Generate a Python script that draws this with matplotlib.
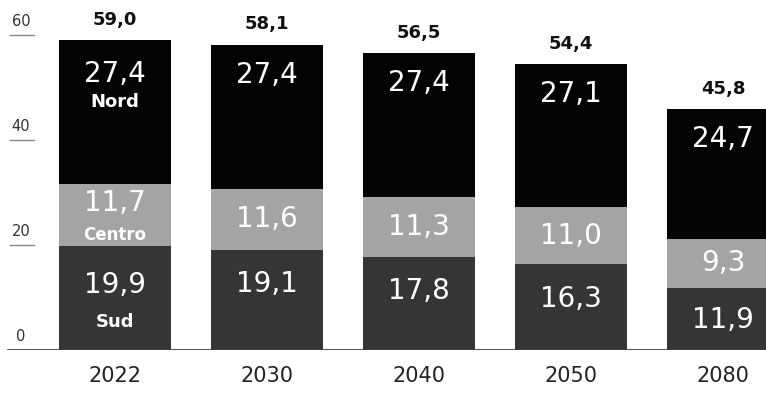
import matplotlib.pyplot as plt
import numpy as np

plt.rcParams['font.family'] = ['DejaVu Sans']

years = ['2022', '2030', '2040', '2050', '2080']
sud = [19.9, 19.1, 17.8, 16.3, 11.9]
centro = [11.7, 11.6, 11.3, 11.0, 9.3]
nord = [27.4, 27.4, 27.4, 27.1, 24.7]
totale = [59.0, 58.1, 56.5, 54.4, 45.8]
yticks = [0, 20, 40, 60]

def fmt(v):
    return f'{v:.1f}'.replace('.', ',')

fig = plt.figure(figsize=(7.66, 3.94), dpi=100)
ax = fig.add_axes([0, 44 / 394, 1, 350 / 394])
ax.set_xlim(-0.757, 4.283)
ax.set_ylim(0, 350 / 5.25)
ax.axis('off')

x = np.arange(len(years))
sud = np.array(sud)
centro = np.array(centro)
nord = np.array(nord)
w = 0.74

ax.bar(x, sud, w, color='#353535')
ax.bar(x, centro, w, bottom=sud, color='#a4a4a4')
ax.bar(x, nord, w, bottom=sud + centro, color='#040404')

# linea di base
ax.axhline(0, xmin=8 / 766, xmax=1, color='#444444', lw=2, zorder=5)

# etichette asse y
for t in yticks:
    ax.text(21 / 766, t + 1.2, str(t), transform=ax.get_yaxis_transform(),
            ha='center', va='bottom', fontsize=10.5, color='#333333')
    if t > 0:
        ax.plot([10 / 766, 34 / 766], [t, t], transform=ax.get_yaxis_transform(),
                color='#888888', lw=1, clip_on=False)

for i in range(len(years)):
    top_s = sud[i]
    top_c = sud[i] + centro[i]
    top_n = top_c + nord[i]
    if i == 0:
        ax.text(i, top_n - 6.5, fmt(nord[i]), ha='center', va='center',
                color='white', fontsize=20)
        ax.text(i, top_n - 11.8, 'Nord', ha='center', va='center',
                color='white', fontsize=13, fontweight='bold')
        ax.text(i, top_s + centro[i] / 2 + 2.2, fmt(centro[i]), ha='center',
                va='center', color='white', fontsize=20)
        ax.text(i, top_s + 2.0, 'Centro', ha='center', va='center',
                color='white', fontsize=12, fontweight='bold')
        ax.text(i, top_s - 7.5, fmt(sud[i]), ha='center', va='center',
                color='white', fontsize=20)
        ax.text(i, top_s - 14.5, 'Sud', ha='center', va='center',
                color='white', fontsize=13, fontweight='bold')
    else:
        ax.text(i, top_n - 5.7, fmt(nord[i]), ha='center', va='center',
                color='white', fontsize=20)
        ax.text(i, top_s + centro[i] / 2, fmt(centro[i]), ha='center',
                va='center', color='white', fontsize=20)
        ax.text(i, max(top_s - 6.5, 5.7), fmt(sud[i]), ha='center',
                va='center', color='white', fontsize=20)
    ax.text(i, totale[i] + 2.2, fmt(totale[i]), ha='center', va='bottom',
            color='#111111', fontsize=13, fontweight='bold')
    ax.text(i, -5, years[i], ha='center', va='center', color='#222222',
            fontsize=15, clip_on=False)

fig.savefig('out.png', dpi=100)
